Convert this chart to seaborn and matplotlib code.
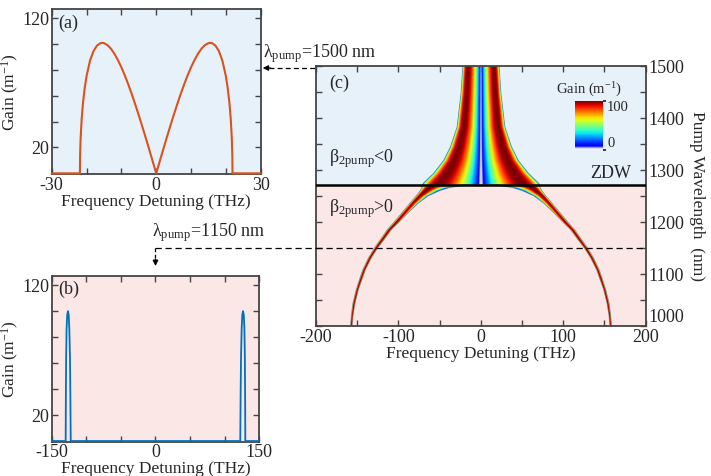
import numpy as np
import pandas as pd
import seaborn as sns
import matplotlib.pyplot as plt
from matplotlib.colors import LinearSegmentedColormap
from matplotlib.lines import Line2D

# (a) gain spectrum, pump at 1500 nm
a_thz = [-30, -21.9, -21.85, -21.7, -21.4, -21, -20.5, -20, -19, -18, -17, -16, -15.5, -15, -14, -13, -12,
         -11, -10, -9, -8, -7, -6, -5, -4, -3, -2, -1, 0,
         1, 2, 3, 4, 5, 6, 7, 8, 9, 10, 11, 12, 13, 14, 15, 15.5, 16, 17, 18, 19, 20, 20.5, 21, 21.4,
         21.7, 21.85, 21.9, 30]
a_gain = [0, 0, 13.6, 27.0, 41.9, 55.0, 66.5, 75.2, 87.2, 94.6, 98.9, 100.8, 101.0, 100.8, 99.3, 96.5, 92.6,
          87.7, 82.1, 75.7, 68.7, 61.2, 53.2, 44.9, 36.3, 27.4, 18.4, 9.2, 0,
          9.2, 18.4, 27.4, 36.3, 44.9, 53.2, 61.2, 68.7, 75.7, 82.1, 87.7, 92.6, 96.5, 99.3, 100.8, 101.0,
          100.8, 98.9, 94.6, 87.2, 75.2, 66.5, 55.0, 41.9, 27.0, 13.6, 0, 0]

# (b) gain spectrum, pump at 1150 nm
b_thz = [-150, -129.8, -129.5, -129.1, -128.5, -127.6, -126.5, -125.4, -124.5, -123.6, -123.0, -122.5,
         122.5, 123.0, 123.6, 124.5, 125.4, 126.5, 127.6, 128.5, 129.1, 129.5, 129.8, 150]
b_gain = [0, 0, 35, 65, 86, 97, 100, 97, 86, 65, 35, 0,
          0, 35, 65, 86, 97, 100, 97, 86, 65, 35, 0, 0]

# (c) gain band edges (THz) against pump wavelength (nm)
zdw_nm = 1272
anom_nm = [1272, 1275, 1294, 1319, 1345, 1383, 1447, 1500]
anom_cut = [71, 70, 57.6, 45.3, 37.2, 29.2, 24.5, 22.2]
norm_nm = [1000, 1020, 1044, 1070, 1090, 1108, 1130, 1150, 1170, 1185, 1200, 1217, 1236, 1250, 1260, 1266, 1272]
norm_outer = [158.5, 157.5, 155.5, 151.5, 147.5, 143.5, 137, 129.5, 120.5, 114, 105.5, 96.5, 86.5, 79, 74, 72, 71]
norm_inner = [156, 155, 152.5, 148.5, 144, 140, 133, 125, 115.5, 108.5, 99, 88.5, 76, 64, 50, 38, 12]

blue_bg = '#e7f1fa'
pink_bg = '#fce7e7'
spine_c = '#444444'

sns.set_theme(style='ticks')
plt.rcParams['font.family'] = ['Liberation Serif', 'DejaVu Serif']
plt.rcParams['mathtext.fontset'] = 'custom'
plt.rcParams['mathtext.rm'] = 'Liberation Serif'
plt.rcParams['mathtext.it'] = 'Liberation Serif:italic'
plt.rcParams['mathtext.bf'] = 'Liberation Serif:bold'

fig = plt.figure(figsize=(7.11, 4.76), dpi=100)
ax_a = fig.add_axes([0.0727, 0.6345, 0.294, 0.346])
ax_b = fig.add_axes([0.0727, 0.0721, 0.292, 0.348])
ax_c = fig.add_axes([0.4444, 0.3151, 0.4637, 0.5462])


def style_axes(ax):
    for s in ax.spines.values():
        s.set_color(spine_c)
        s.set_linewidth(1.3)
    ax.tick_params(direction='in', top=True, right=True, length=4, width=1,
                   color=spine_c, labelsize=13, pad=2)


# --- (a) ---
df_a = pd.DataFrame({'thz': a_thz, 'gain': a_gain})
ax_a.set_facecolor(blue_bg)
sns.lineplot(data=df_a, x='thz', y='gain', ax=ax_a, color='#d9531e', lw=1.5,
             sort=False, estimator=None, clip_on=False, zorder=5)
ax_a.set_xlim(-30, 30)
ax_a.set_ylim(-0.5, 127)
ax_a.set_xticks(range(-30, 31, 10), ['-30', '', '', '0', '', '', '30'])
ax_a.set_yticks(range(20, 121, 20), ['20', '', '', '', '', '120'])
ax_a.set_xlabel('Frequency Detuning (THz)', fontsize=12.5, labelpad=0)
ax_a.set_ylabel('Gain (m$^{\\mathrm{-1}}$)', fontsize=12.5, labelpad=1)
ax_a.text(0.03, 0.97, '(a)', transform=ax_a.transAxes, fontsize=13, va='top')
style_axes(ax_a)

# --- (b) ---
df_b = pd.DataFrame({'thz': b_thz, 'gain': b_gain})
ax_b.set_facecolor(pink_bg)
sns.lineplot(data=df_b, x='thz', y='gain', ax=ax_b, color='#0072bd', lw=1.3,
             sort=False, estimator=None, clip_on=False, zorder=5)
ax_b.set_xlim(-150, 150)
ax_b.set_ylim(-0.5, 127)
ax_b.set_xticks(range(-150, 151, 50), ['-150', '', '', '0', '', '', '150'])
ax_b.set_yticks(range(20, 121, 20), ['20', '', '', '', '', '120'])
ax_b.set_xlabel('Frequency Detuning (THz)', fontsize=12.5, labelpad=0)
ax_b.set_ylabel('Gain (m$^{\\mathrm{-1}}$)', fontsize=12.5, labelpad=1)
ax_b.text(0.03, 0.97, '(b)', transform=ax_b.transAxes, fontsize=13, va='top')
style_axes(ax_b)

# --- (c) gain map, band shapes taken from the (a) and (b) spectra ---
half = np.array(a_thz) >= 0
prof_a_x = np.array(a_thz)[half] / 21.9
prof_a_g = np.array(a_gain)[half]
spike = (np.array(b_thz) < 0) & (np.array(b_thz) > -140)
prof_b_x = (np.array(b_thz)[spike] + 129.8) / 7.3
prof_b_g = np.array(b_gain)[spike]

det = np.arange(-200, 200.01, 0.2)
lam = np.arange(1000, 1500.01, 0.5)
D, L = np.meshgrid(det, lam)
cut = np.interp(L, anom_nm, anom_cut)
g_anom = np.interp(np.abs(D) / cut, prof_a_x, prof_a_g, left=0, right=0)
inner = np.interp(L, norm_nm, norm_inner)
outer = np.interp(L, norm_nm, norm_outer)
u = (np.abs(D) - inner) / (outer - inner)
w = np.clip((L - 1200) / 60, 0, 1)
g_norm = w * np.interp(u, prof_a_x, prof_a_g, left=0, right=0) \
    + (1 - w) * np.interp(u, prof_b_x, prof_b_g, left=0, right=0)
gain = np.where(L >= zdw_nm, g_anom, g_norm)
gain = np.ma.masked_less_equal(gain, 0.5)

jet = plt.get_cmap('jet')
stops = [(0.0, (1, 1, 1)), (0.04, (0.78, 0.78, 1.0))]
stops += [(0.08 + 0.92 * t, jet(0.1 + 0.9 * t)) for t in np.linspace(0, 1, 15)]
cmap = LinearSegmentedColormap.from_list('gainmap', stops)
cmap.set_bad((0, 0, 0, 0))

ax_c.axhspan(zdw_nm, 1500, color=blue_bg, zorder=0, lw=0)
ax_c.axhspan(1000, zdw_nm, color=pink_bg, zorder=0, lw=0)
im = ax_c.imshow(gain, extent=[-200, 200, 1000, 1500], origin='lower', aspect='auto',
                 cmap=cmap, vmin=0, vmax=100, zorder=1,
                 interpolation='antialiased', interpolation_stage='rgba')
ax_c.axhline(zdw_nm, color='black', lw=1.8, zorder=3)
ax_c.axhline(1150, color='black', lw=0.9, ls=(0, (5, 3)), zorder=3)
ax_c.set_xlim(-200, 200)
ax_c.set_ylim(1000, 1500)
ax_c.set_xticks(range(-200, 201, 50), ['-200', '', '-100', '', '0', '', '100', '', '200'])
ax_c.set_yticks(range(1000, 1501, 50),
                ['1000', '', '1100', '', '1200', '', '1300', '', '1400', '', '1500'])
style_axes(ax_c)
ax_c.tick_params(axis='y', labelleft=False, labelright=True, left=True, right=True)
ax_c.get_yticklabels()[0].set_verticalalignment('bottom')
ax_c.yaxis.set_label_position('right')
ax_c.set_ylabel('Pump Wavelength  (nm)', fontsize=12.5, rotation=270, labelpad=15)
ax_c.set_xlabel('Frequency Detuning (THz)', fontsize=12.5, labelpad=0)
ax_c.text(0.04, 0.965, '(c)', transform=ax_c.transAxes, fontsize=13, va='top')
ax_c.text(0.04, 0.646, 'β$_{\\mathrm{2pump}}$<0', transform=ax_c.transAxes, fontsize=13, va='center')
ax_c.text(0.04, 0.45, 'β$_{\\mathrm{2pump}}$>0', transform=ax_c.transAxes, fontsize=13, va='center')
ax_c.text(0.955, zdw_nm + 4, 'ZDW', transform=ax_c.get_yaxis_transform(), fontsize=13,
          ha='right', va='bottom')

cax = fig.add_axes([575 / 711, 1 - 150 / 476, 28 / 711, 49 / 476])
cb = fig.colorbar(im, cax=cax, ticks=[0, 100])
cb.outline.set_visible(False)
cax.tick_params(labelsize=10.5, length=2, pad=1)
cax.get_yticklabels()[-1].set_verticalalignment('top')
cax.get_yticklabels()[0].set_verticalalignment('bottom')
cax.set_title('Gain (m$^{\\mathrm{-1}}$)', fontsize=10.5, pad=5)

# --- pump wavelength pointers ---
to_fig = fig.transFigure.inverted()


def fig_xy(ax, x, y):
    return to_fig.transform(ax.transData.transform((x, y)))


px = 1 / 711
py = 1 / 476
# 1500 nm -> panel (a)
x0, y0 = fig_xy(ax_c, -200, 1500)
xa = ax_a.get_position().x1 + 2 * px
y0 = y0 - 2 * py
fig.add_artist(Line2D([xa + 6 * px, x0], [y0, y0], color='black', lw=0.9, ls=(0, (4, 2.5))))
ax_c.annotate('', xy=(xa, y0), xycoords='figure fraction', xytext=(xa + 8 * px, y0),
              textcoords='figure fraction', annotation_clip=False,
              arrowprops=dict(arrowstyle='-|>', color='black', lw=0.9, mutation_scale=8,
                              shrinkA=0, shrinkB=0))
fig.text(xa, y0 + 3 * py, 'λ$_{\\mathrm{pump}}$=1500 nm', fontsize=13, ha='left', va='bottom')

# 1150 nm -> panel (b)
x1, y1 = fig_xy(ax_c, -200, 1150)
xb, _ = fig_xy(ax_b, 0, 0)
yb = ax_b.get_position().y1 + 10 * py
fig.add_artist(Line2D([xb, x1], [y1, y1], color='black', lw=0.9, ls=(0, (5, 3))))
fig.add_artist(Line2D([xb, xb], [y1, yb + 6 * py], color='black', lw=0.9, ls=(0, (3, 2))))
ax_c.annotate('', xy=(xb, yb), xycoords='figure fraction', xytext=(xb, yb + 7 * py),
              textcoords='figure fraction', annotation_clip=False,
              arrowprops=dict(arrowstyle='-|>', color='black', lw=0.9, mutation_scale=8,
                              shrinkA=0, shrinkB=0))
fig.text(xb - 3 * px, y1 + 4 * py, 'λ$_{\\mathrm{pump}}$=1150 nm', fontsize=13, ha='left', va='bottom')

fig.savefig('out.png', dpi=100)
